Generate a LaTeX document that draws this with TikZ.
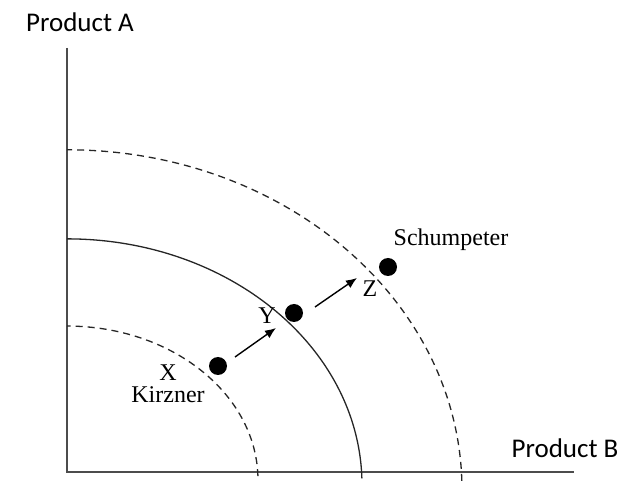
\documentclass[tikz,border=0pt]{standalone}
\usepackage{fontspec}
\setmainfont{Liberation Serif}
\newfontfamily\axisfont{Carlito}
\usetikzlibrary{arrows.meta}
\begin{document}
\begin{tikzpicture}[x=1pt,y=-1pt,
  axisline/.style={line width=1.6pt,draw=black!70},
  frontier/.style={line width=1.3pt,draw=black!85},
  dashfrontier/.style={frontier,dash pattern=on 7pt off 5pt},
  dot/.style={circle,fill=black,inner sep=0pt,minimum size=18pt},
  move/.style={line width=1.4pt,-{Latex[length=11pt,width=9pt]}},
  pointlabel/.style={font=\fontsize{24}{22}\selectfont,inner sep=0pt,align=center},
  axislabel/.style={font=\axisfont\fontsize{27}{30}\selectfont,inner sep=0pt}]
\useasboundingbox (0,0) rectangle (641,486);

% axes
\coordinate (origin) at (67,472);
\coordinate (ytop) at (67,48);
\coordinate (xend) at (574,472);
\draw[axisline] (ytop) -- (origin) -- (xend);

% production possibility frontiers (quarter ellipses about the origin)
\draw[dashfrontier] (origin) ++(1.5:191 and 154) arc[start angle=1.5,end angle=90,x radius=191,y radius=-154];
\draw[frontier] (origin) ++(1.5:295 and 246) arc[start angle=1.5,end angle=90,x radius=295,y radius=-246];
\draw[dashfrontier] (origin) ++(1.5:395 and 340) arc[start angle=1.5,end angle=90,x radius=395,y radius=-340];

% positions
\node[dot] (x) at (218,366) {};
\node[dot] (y) at (294,313) {};
\node[dot] (z) at (388,267) {};

% moves between frontiers
\coordinate (xyfrom) at (235,357);
\coordinate (xyto) at (276,328);
\coordinate (yzfrom) at (315,307);
\coordinate (yzto) at (357,278);
\draw[move] (xyfrom) -- (xyto);
\draw[move] (yzfrom) -- (yzto);

% labels
\node[pointlabel] (xl) at (168,384) {X\\Kirzner};
\node[pointlabel] (yl) at (267,316) {Y};
\node[pointlabel] (zl) at (370,289) {Z};
\node[pointlabel] (sl) at (451,240) {Schumpeter};
\node[axislabel] (al) at (80,22) {Product A};
\node[axislabel] (bl) at (565,448) {Product B};
\end{tikzpicture}
\end{document}
